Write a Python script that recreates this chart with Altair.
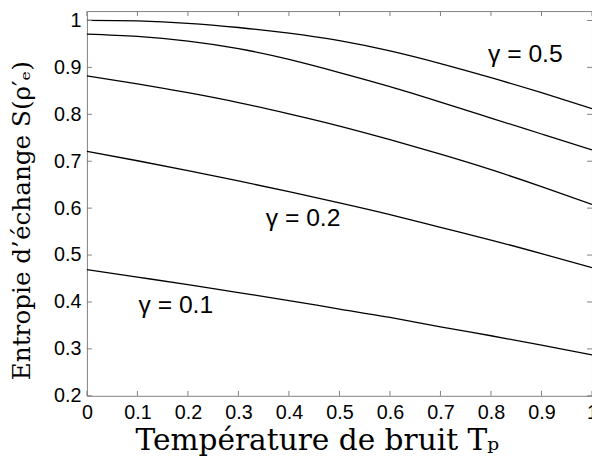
import altair as alt
import pandas as pd

# Température de bruit T_p (x) samples
t_values = [0.0, 0.1, 0.2, 0.3, 0.4, 0.5, 0.6, 0.7, 0.8, 0.9, 1.0]

# Entropie d'échange S (top to bottom)
s_curve1 = [1.000, 0.999, 0.994, 0.985, 0.973, 0.957, 0.935, 0.908, 0.878, 0.846, 0.812]  # gamma = 0.5
s_curve2 = [0.971, 0.966, 0.956, 0.940, 0.917, 0.889, 0.859, 0.826, 0.792, 0.758, 0.724]
s_curve3 = [0.882, 0.865, 0.846, 0.825, 0.801, 0.775, 0.746, 0.715, 0.682, 0.646, 0.608]
s_curve4 = [0.721, 0.701, 0.680, 0.658, 0.635, 0.611, 0.586, 0.559, 0.532, 0.503, 0.473]  # gamma = 0.2
s_curve5 = [0.469, 0.453, 0.437, 0.420, 0.403, 0.385, 0.367, 0.347, 0.328, 0.308, 0.287]  # gamma = 0.1

series_names = ["c1", "c2", "c3", "c4", "c5"]
series_values = [s_curve1, s_curve2, s_curve3, s_curve4, s_curve5]

# curve annotations
label_texts = ["γ = 0.5", "γ = 0.2", "γ = 0.1"]
label_t = [0.868, 0.428, 0.176]
label_s = [0.929, 0.578, 0.393]

# tick positions
x_ticks = [0.0, 0.1, 0.2, 0.3, 0.4, 0.5, 0.6, 0.7, 0.8, 0.9, 1.0]
y_ticks = [0.2, 0.3, 0.4, 0.5, 0.6, 0.7, 0.8, 0.9, 1.0]

rows = []
for name, vals in zip(series_names, series_values):
    for t, s in zip(t_values, vals):
        rows.append({"series": name, "T": t, "S": s})
df = pd.DataFrame(rows)
labels_df = pd.DataFrame({"T": label_t, "S": label_s, "label": label_texts})
xt_df = pd.DataFrame({"T": x_ticks})
yt_df = pd.DataFrame({"S": y_ticks})

W, H = 512, 390
FRAME = "#808080"

xscale = alt.Scale(domain=[0, 1], nice=False, zero=False)
yscale = alt.Scale(domain=[0.2, 1.02], nice=False, zero=False)

x_axis = alt.Axis(
    values=x_ticks, format=".1~f", ticks=False, domain=False, grid=False,
    labelFont="Liberation Sans", labelFontSize=20, labelColor="black",
    labelPadding=7, labelFlush=False, labelOverlap=False,
    title="Température de bruit Tₚ", titleFont="DejaVu Serif",
    titleFontSize=30, titleFontWeight="normal", titleColor="black",
    titleX=233, titleY=54, titleBaseline="alphabetic", titleLimit=1000,
)
y_axis = alt.Axis(
    values=y_ticks, format=".1~f", ticks=False, domain=False, grid=False,
    labelFont="Liberation Sans", labelFontSize=20, labelColor="black",
    labelPadding=6, labelFlush=False, labelOverlap=False,
    title="Entropie d’échange S(ρ′ₑ)", titleFont="DejaVu Serif",
    titleFontSize=25, titleFontWeight="normal", titleColor="black",
    titleX=-58, titleY=212, titleBaseline="alphabetic", titleLimit=1000,
)

lines = alt.Chart(df).mark_line(color="black", strokeWidth=1.3, interpolate="natural").encode(
    x=alt.X("T:Q", scale=xscale, axis=x_axis),
    y=alt.Y("S:Q", scale=yscale, axis=y_axis),
    detail="series:N",
)

texts = alt.Chart(labels_df).mark_text(
    font="Liberation Sans", fontSize=25, color="black", align="center", baseline="middle"
).encode(
    x=alt.X("T:Q", scale=xscale),
    y=alt.Y("S:Q", scale=yscale),
    text="label:N",
)

bottom_ticks = alt.Chart(xt_df).mark_rule(color=FRAME, strokeWidth=1).encode(
    x=alt.X("T:Q", scale=xscale), y=alt.value(H), y2=alt.value(H - 5)
)
top_ticks = alt.Chart(xt_df).mark_rule(color=FRAME, strokeWidth=1).encode(
    x=alt.X("T:Q", scale=xscale), y=alt.value(0), y2=alt.value(5)
)
left_ticks = alt.Chart(yt_df).mark_rule(color=FRAME, strokeWidth=1).encode(
    y=alt.Y("S:Q", scale=yscale), x=alt.value(0), x2=alt.value(5)
)
right_ticks = alt.Chart(yt_df).mark_rule(color=FRAME, strokeWidth=1).encode(
    y=alt.Y("S:Q", scale=yscale), x=alt.value(W), x2=alt.value(W - 5)
)

chart = alt.layer(
    lines, bottom_ticks, top_ticks, left_ticks, right_ticks, texts
).properties(
    width=W, height=H,
    autosize=alt.AutoSizeParams(type="none"),
    padding={"left": 80, "top": 0, "right": 0, "bottom": 66},
    background="white",
).configure_view(stroke=FRAME, strokeWidth=1)

chart.save("out.html", embed_options={"renderer": "svg", "actions": False})
